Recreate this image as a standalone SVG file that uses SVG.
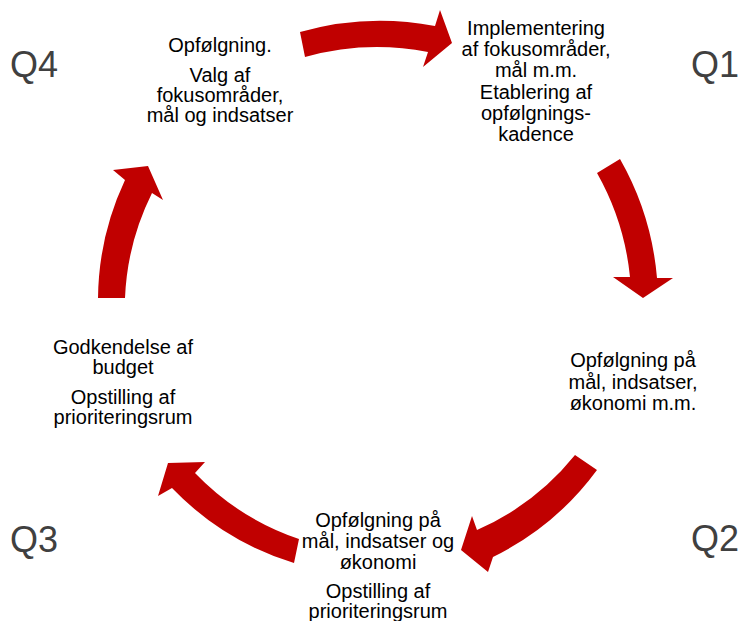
<svg xmlns="http://www.w3.org/2000/svg" width="742" height="621" viewBox="0 0 742 621">
<style>
.t{font-family:"Liberation Sans",Arial,sans-serif;font-size:20px;fill:#000;text-anchor:middle}
.q{font-family:"Liberation Sans",Arial,sans-serif;font-size:36px;fill:#404040}
.a{fill:#C00000}
</style>
<rect width="742" height="621" fill="#fff"/>
<g id="q4"><text class="q" x="10" y="77">Q4</text></g>
<g id="q1"><text class="q" x="691" y="77">Q1</text></g>
<g id="q3"><text class="q" x="10" y="552">Q3</text></g>
<g id="q2"><text class="q" x="691" y="551">Q2</text></g>
<g id="node-q4"><text class="t"><tspan x="220" y="52">Opfølgning.</tspan><tspan x="220" y="82">Valg af</tspan><tspan x="220" y="102">fokusområder,</tspan><tspan x="220" y="122">mål og indsatser</tspan></text></g>
<g id="node-q1"><text class="t"><tspan x="536" y="35">Implementering</tspan><tspan x="536" y="56">af fokusområder,</tspan><tspan x="536" y="77">mål m.m.</tspan><tspan x="536" y="99">Etablering af</tspan><tspan x="536" y="120">opfølgnings-</tspan><tspan x="536" y="141">kadence</tspan></text></g>
<g id="node-q2"><text class="t"><tspan x="633" y="367">Opfølgning på</tspan><tspan x="633" y="389">mål, indsatser,</tspan><tspan x="633" y="410">økonomi m.m.</tspan></text></g>
<g id="node-q3b"><text class="t"><tspan x="378" y="527">Opfølgning på</tspan><tspan x="378" y="548">mål, indsatser og</tspan><tspan x="378" y="569">økonomi</tspan><tspan x="378" y="598">Opstilling af</tspan><tspan x="378" y="618">prioriteringsrum</tspan></text></g>
<g id="node-q3"><text class="t"><tspan x="123" y="354">Godkendelse af</tspan><tspan x="123" y="374">budget</tspan><tspan x="123" y="404">Opstilling af</tspan><tspan x="123" y="424">prioriteringsrum</tspan></text></g>
<g id="connectors">
<path class="a" d="M300,32 A293,293 0 0 1 435,26 L440,10 L452,43 L423,67 L428,52 A268,268 0 0 0 305,57 Z"/>
<path class="a" d="M620,159 A290,290 0 0 1 657,278 L673,278 L643,298 L613,277 L630,277 A265,265 0 0 0 597,173 Z"/>
<path class="a" d="M597,470 A285,285 0 0 1 493,557 L488,572 L461,550 L472,516 L477,530 A260,260 0 0 0 575,455 Z"/>
<path class="a" d="M294,563 A285,285 0 0 1 172,488 L158,496 L168,463 L205,462 L195,473 A260,260 0 0 0 299,539 Z"/>
<path class="a" d="M98,298 A285,285 0 0 1 125,180 L113,170 L148,166 L163,200 L152,193 A260,260 0 0 0 125,298 Z"/>
</g>
</svg>
